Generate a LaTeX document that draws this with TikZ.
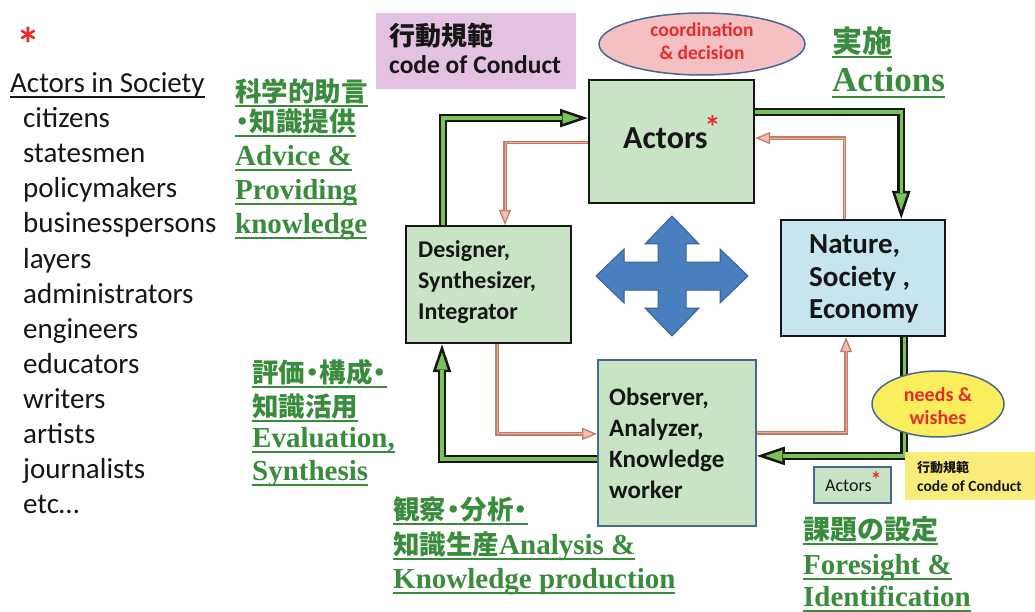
\documentclass[tikz,border=0pt]{standalone}
\usepackage{fontspec}
\setmainfont{Carlito}
\newfontfamily\tnr{Liberation Serif}
\newfontfamily\jp{Noto Sans CJK JP}
\usetikzlibrary{arrows.meta,shapes.geometric}

\definecolor{txtgreen}{RGB}{56,140,60}
\definecolor{flowgreen}{RGB}{120,196,88}
\definecolor{boxgreen}{RGB}{200,228,196}
\definecolor{boxblue}{RGB}{198,229,238}
\definecolor{edgeblue}{RGB}{72,102,150}
\definecolor{lilac}{RGB}{226,194,224}
\definecolor{rosefill}{RGB}{244,192,194}
\definecolor{lemon}{RGB}{250,238,92}
\definecolor{cream}{RGB}{250,236,122}
\definecolor{crossblue}{RGB}{74,128,192}
\definecolor{crossedge}{RGB}{52,96,150}
\definecolor{rust}{RGB}{192,124,104}
\definecolor{rustcore}{RGB}{232,178,160}
\definecolor{blush}{RGB}{246,190,178}
\definecolor{alert}{RGB}{232,42,42}
\definecolor{ink}{RGB}{22,22,22}

% font helpers
\newcommand\fs[2]{\fontsize{#1}{#2}\selectfont}
\newcommand\jpg{\jp\bfseries\fs{26.5}{30}}
\newcommand\tng{\tnr\bfseries\fs{29}{34}}
\newcommand\jdot{\hbox to 0.55em{\hss ・\hss}}
% red superscript star after a word
\newcommand\redstar[3]{\kern#1pt\raisebox{#2pt}{\textcolor{alert}{\bfseries\fs{#3}{#3}*}}}
% underline at a fixed distance below the baseline
\newcommand\gul[2][3.5]{\setbox0=\hbox{#2}\rlap{\rule[\dimexpr-#1pt-2pt\relax]{\wd0}{2pt}}\box0}
% stacked lines with explicit baseline distances
\newcommand\stack[1]{\vtop{\lineskiplimit=-\maxdimen\lineskip=0pt\relax#1}}
\newcommand\tline[2]{\baselineskip=#1pt\relax\hbox{#2}}

\tikzset{
  greenbox/.style={draw=ink, line width=2.2pt, fill=boxgreen, inner sep=0pt, anchor=north west},
  bluebox/.style={draw=ink, line width=2.2pt, fill=boxblue, inner sep=0pt, anchor=north west},
  obsbox/.style={draw=edgeblue, line width=1.8pt, fill=boxgreen, inner sep=0pt, anchor=north west},
  bubble/.style={ellipse, draw=edgeblue, line width=1.5pt, inner sep=0pt},
  bubbletext/.style={inner sep=0pt, align=center, text=alert},
  boxtext/.style={anchor=base west, inner sep=0pt, text=ink, font=\bfseries},
  gtext/.style={anchor=base west, inner sep=0pt, text=txtgreen},
  listtext/.style={anchor=base west, inner sep=0pt, text=ink, font=\fs{29}{35}},
  asterisk/.style={anchor=base, inner sep=0pt, text=alert, font=\bfseries},
  flowline/.style={line width=8pt, draw=ink, line join=miter,
    -{Triangle[length=28pt,width=18pt,line width=2.5pt,fill=flowgreen]}},
  flowcore/.style={line width=3.2pt, draw=flowgreen, line join=miter, shorten >=26pt},
  thinline/.style={line width=3.2pt, draw=rust, line join=miter,
    -{Triangle[length=15pt,width=12pt,line width=1.3pt,fill=blush]}},
  thincore/.style={line width=0.9pt, draw=rustcore, line join=miter, shorten >=14pt},
}

\begin{document}
\begin{tikzpicture}[x=1pt,y=-1pt]
\path[use as bounding box, fill=white] (0,0) rectangle (1035,612);

% ---- list of actors on the left
\node[asterisk, font=\bfseries\fs{48}{52}] (star) at (28,62) {*};
\node[listtext] (soc) at (10,93) {\gul[3]{Actors in Society}};
\foreach \w [count=\i] in {citizens,statesmen,policymakers,businesspersons,layers,administrators,engineers,educators,writers,artists,journalists,etc…}
  \node[listtext] (who\i) at (23,{93+35*\i}) {\w};

% ---- main boxes
\node[greenbox, minimum width=165pt, minimum height=123pt] (act) at (588,79) {};
\node[greenbox, minimum width=165pt, minimum height=117pt] (des) at (405,225) {};
\node[bluebox, minimum width=164pt, minimum height=116pt] (nat) at (780,219) {};
\node[obsbox, minimum width=158pt, minimum height=166pt] (obs) at (597,359) {};

\node[anchor=base west, inner sep=0pt, text=ink, font=\bfseries\fs{32}{36}] (acttxt) at (623,149) {Actors\redstar{-3}{10}{32}};
\node[boxtext, font=\bfseries\fs{24}{31}] (destxt) at (418,258)
  {\stack{\tline{0}{Designer,}\tline{31}{Synthesizer,}\tline{31}{Integrator}}};
\node[boxtext, font=\bfseries\fs{29}{33}] (nattxt) at (809,253)
  {\stack{\tline{0}{Nature,}\tline{33}{Society ,}\tline{33}{Economy}}};
\node[boxtext, font=\bfseries\fs{25}{31}] (obstxt) at (609,405)
  {\stack{\tline{0}{Observer,}\tline{31}{Analyzer,}\tline{31}{Knowledge}\tline{31}{worker}}};

% ---- code of conduct and coordination
\node[fill=lilac, inner sep=0pt, anchor=north west, minimum width=200pt, minimum height=76pt] (code) at (376,13) {};
\node[anchor=base west, inner sep=0pt, text=ink, font=\jp\bfseries\fs{26}{30}] (codej) at (389,46) {行動規範};
\node[anchor=base west, inner sep=0pt, text=ink, font=\bfseries\fs{25.5}{30}] (codee) at (389,74) {code of Conduct};
\node[bubble, fill=rosefill, minimum width=206pt, minimum height=62pt] (coord) at (702,44) {};
\node[bubbletext, font=\bfseries\fs{19.5}{23}] (coordtxt) at ([yshift=3pt]coord.center) {coordination\\\& decision};

% ---- central four-way arrow
\draw[fill=crossblue, draw=crossedge, line width=1pt, line join=miter]
  (748,276) -- (720,249) -- (720,262) -- (686,262) -- (686,244) -- (699,244)
  -- (672,216) -- (645,244) -- (658,244) -- (658,262) -- (624,262) -- (624,249)
  -- (596,276) -- (624,303) -- (624,290) -- (658,290) -- (658,308) -- (645,308)
  -- (672,336) -- (699,308) -- (686,308) -- (686,290) -- (720,290) -- (720,303) -- cycle;

% ---- thin feedback arrows
\draw[thinline] ([yshift=-1pt]act.west) -| ([xshift=100pt]des.north west);
\draw[thincore] ([yshift=-1pt]act.west) -| ([xshift=100pt]des.north west);
\draw[thinline] ([xshift=-102pt]nat.north east) |- ([yshift=3.5pt]act.east);
\draw[thincore] ([xshift=-102pt]nat.north east) |- ([yshift=3.5pt]act.east);
\draw[thinline] ([xshift=92pt]des.south west) |- ([yshift=9pt]obs.west);
\draw[thincore] ([xshift=92pt]des.south west) |- ([yshift=9pt]obs.west);
\draw[thinline] ([yshift=10pt]obs.east) -| ([xshift=66pt]nat.south west);
\draw[thincore] ([yshift=10pt]obs.east) -| ([xshift=66pt]nat.south west);

% ---- thick cycle arrows
\draw[flowline] ([xshift=38pt]des.north west) |- ([yshift=23.5pt]act.west);
\draw[flowcore] ([xshift=38pt]des.north west) |- ([yshift=23.5pt]act.west);
\draw[flowline] ([yshift=29.5pt]act.east) -| ([xshift=-45pt]nat.north east);
\draw[flowcore] ([yshift=29.5pt]act.east) -| ([xshift=-45pt]nat.north east);
\draw[flowline] ([xshift=-42pt]nat.south east) |- ([yshift=-13pt]obs.east);
\draw[flowcore] ([xshift=-42pt]nat.south east) |- ([yshift=-13pt]obs.east);
\draw[flowline] ([yshift=-16pt]obs.west) -| ([xshift=37pt]des.south west);
\draw[flowcore] ([yshift=-16pt]obs.west) -| ([xshift=37pt]des.south west);

% ---- needs, conduct and actor legend at the lower right
\node[bubble, fill=lemon, minimum width=132pt, minimum height=66pt] (needs) at (938,404) {};
\node[bubbletext, font=\bfseries\fs{20}{23}] (needstxt) at ([yshift=-2pt]needs.center) {needs \&\\wishes};
\node[fill=cream, inner sep=0pt, anchor=north west, minimum width=130pt, minimum height=48pt] (code2) at (905,452) {};
\node[anchor=base west, inner sep=0pt, text=ink, font=\jp\bfseries\fs{13}{16}] (code2j) at (917,472) {行動規範};
\node[anchor=base west, inner sep=0pt, text=ink, font=\bfseries\fs{15.5}{18}] (code2e) at (917,491) {code of Conduct};
\node[draw=edgeblue, line width=1.5pt, fill=boxgreen, inner sep=0pt, anchor=north west, minimum width=77pt, minimum height=36pt] (mini) at (813,466) {};
\node[anchor=base west, inner sep=0pt, text=ink, font=\fs{18}{20}] (minitxt) at (825,491) {Actors\redstar{-1}{4}{22}};

% ---- green captions
\node[gtext] (advice) at (235,102) {\stack{%
  \tline{0}{\jpg\gul{科学的助言}}%
  \tline{30}{\jpg\gul{\jdot 知識提供}}%
  \tline{34}{\tng\gul{Advice \&}}%
  \tline{34}{\tng\gul{Providing}}%
  \tline{34}{\tng\gul{knowledge}}}};
\node[gtext] (evalu) at (252,382) {\stack{%
  \tline{0}{\jpg\gul{評価\jdot 構成\jdot}}%
  \tline{34}{\jpg\gul{知識活用}}%
  \tline{31}{\tng\gul{Evaluation,}}%
  \tline{33}{\tng\gul{Synthesis}}}};
\node[gtext] (analy) at (393,519) {\stack{%
  \tline{0}{\jpg\gul{観察\jdot 分析\jdot}}%
  \tline{35}{\gul{{\jpg 知識生産}{\tng Analysis \&}}}%
  \tline{34}{\tng\gul{Knowledge production}}}};
\node[gtext] (actions) at (832,53) {\stack{%
  \tline{0}{\jp\bfseries\fs{30}{34}\gul{実施}}%
  \tline{39}{\tnr\bfseries\fs{35}{40}\gul[4]{Actions}}}};
\node[gtext] (foresight) at (803,539) {\stack{%
  \tline{0}{\jp\bfseries\fs{27}{30}\gul{課題の設定}}%
  \tline{35}{\tng\gul{Foresight \&}}%
  \tline{32}{\tng\gul{Identification}}}};
\end{tikzpicture}
\end{document}
